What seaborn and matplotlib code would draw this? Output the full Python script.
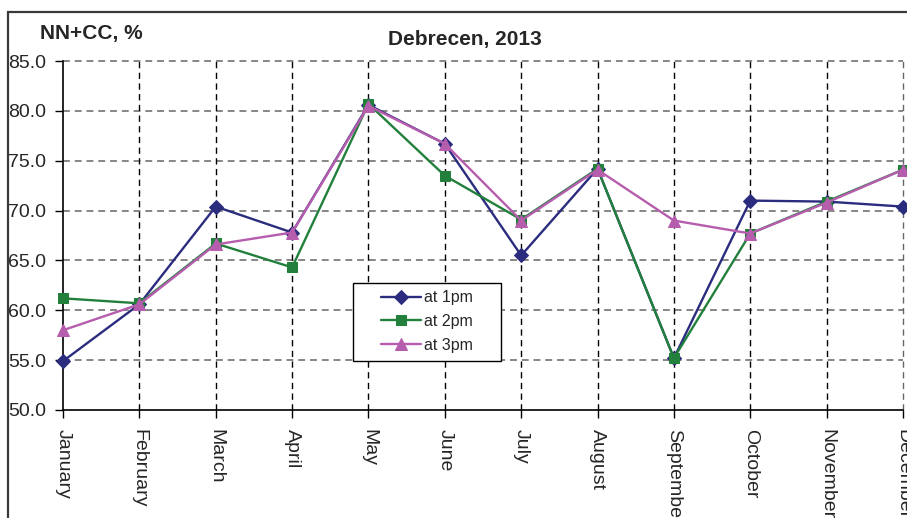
import matplotlib
matplotlib.use("Agg")
import matplotlib.pyplot as plt
from matplotlib.patches import Rectangle
import seaborn as sns
import pandas as pd
import numpy as np

months = ["January", "February", "March", "April", "May", "June", "July",
          "August", "September", "October", "November", "December"]
series_names = ["at 1pm", "at 2pm", "at 3pm"]
at_1pm = [54.9, 60.6, 70.4, 67.8, 80.6, 76.7, 65.5, 74.2, 55.2, 71.0, 70.9, 70.4]
at_2pm = [61.2, 60.7, 66.7, 64.3, 80.7, 73.5, 69.1, 74.2, 55.2, 67.7, 70.9, 74.1]
at_3pm = [58.0, 60.6, 66.6, 67.8, 80.5, 76.7, 69.0, 74.1, 69.0, 67.7, 70.8, 74.1]
y_ticks = [50.0, 55.0, 60.0, 65.0, 70.0, 75.0, 80.0, 85.0]

colors = {"at 1pm": "#2B2C7E", "at 2pm": "#22803C", "at 3pm": "#B65DAE"}
markers = {"at 1pm": "D", "at 2pm": "s", "at 3pm": "^"}
msizes = {"at 1pm": 7.5, "at 2pm": 7.5, "at 3pm": 9}

sns.set_style("white")
plt.rcParams["font.family"] = ["Liberation Sans", "DejaVu Sans"]

fig = plt.figure(figsize=(9.07, 5.18), dpi=100)
ax = fig.add_axes([63 / 907, 1 - 410 / 518, 840 / 907, 349 / 518])

pos = np.arange(len(months))
for name, vals in zip(series_names, [at_1pm, at_2pm, at_3pm]):
    df = pd.DataFrame({"x": pos, "y": vals})
    sns.lineplot(data=df, x="x", y="y", ax=ax, color=colors[name],
                 marker=markers[name], markersize=msizes[name],
                 markeredgecolor=colors[name], linewidth=1.7,
                 label=name, clip_on=False, zorder=5)

ax.set_xlim(0, 11)
ax.set_ylim(50, 85)
ax.set_xticks(pos)
ax.set_xticklabels(months, rotation=270, fontsize=14, va="top", ha="center")
ax.set_yticks(y_ticks)
ax.set_yticklabels([f"{v:.1f}" for v in y_ticks], fontsize=14)
ax.set_xlabel("")
ax.set_ylabel("")

ax.tick_params(axis="both", which="major", direction="out", length=6,
               width=1, color="black", pad=6, left=True, bottom=True)
ax.tick_params(axis="x", pad=8)

for s in ["top", "right"]:
    ax.spines[s].set_visible(False)
for s in ["left", "bottom"]:
    ax.spines[s].set_color("black")
    ax.spines[s].set_linewidth(1.2)
    ax.spines[s].set_zorder(4)

# gridlines
for v in y_ticks[1:]:
    ax.axhline(v, color="#666666", linestyle=(0, (4.5, 3.2)), linewidth=1.1, zorder=1, clip_on=False)
for i in pos[1:]:
    c = "#666666" if i == pos[-1] else "black"
    ax.axvline(i, color=c, linestyle=(0, (4.5, 3.2)), linewidth=1.0, zorder=1, clip_on=False)

# legend box
box = Rectangle(((353 - 63) / 840, (410 - 361) / 349), 148 / 840, 78 / 349,
                transform=ax.transAxes, facecolor="white", edgecolor="black",
                linewidth=1.0, zorder=9)
ax.add_patch(box)
leg = ax.legend(loc="center left", bbox_to_anchor=((381 - 63) / 840, (410 - 321.5) / 349),
                fontsize=11.5, frameon=False, handlelength=2.5, handletextpad=0.2,
                labelspacing=0.55, borderpad=0, borderaxespad=0)
leg.set_zorder(10)

fig.text(40 / 907, 1 - 34 / 518, "NN+CC, %", fontsize=15, fontweight="bold",
         ha="left", va="center")
fig.text(465 / 907, 1 - 40 / 518, "Debrecen, 2013", fontsize=15, fontweight="bold",
         ha="center", va="center")

# outer chart border (cropped on right/bottom)
fig.patches.append(Rectangle((8 / 907, -0.2), 2.0, 1.2 - 12 / 518,
                             transform=fig.transFigure, fill=False,
                             edgecolor="#3A3A3A", linewidth=1.6))

fig.savefig("out.png", dpi=100)
